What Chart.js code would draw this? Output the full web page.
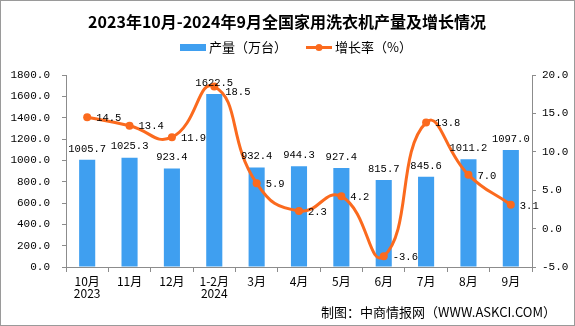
<!DOCTYPE html>
<html>
<head>
<meta charset="utf-8">
<script src="https://cdn.jsdelivr.net/npm/chart.js@4.4.1/dist/chart.umd.min.js"></script>
<style>
  html, body { margin: 0; padding: 0; background: #fff; }
  #wrap { width: 575px; height: 326px; position: relative; }
</style>
</head>
<body>
<div id="wrap"><canvas id="chart"></canvas></div>
<script>
// 数据
const months = [['10月', '2023'], '11月', '12月', ['1-2月', '2024'], '3月', '4月', '5月', '6月', '7月', '8月', '9月'];
const output = [1005.7, 1025.3, 923.4, 1622.5, 932.4, 944.3, 927.4, 815.7, 845.6, 1011.2, 1097.0];
const growth = [14.5, 13.4, 11.9, 18.5, 5.9, 2.3, 4.2, -3.6, 13.8, 7.0, 3.1];

const titleText = '2023年10月-2024年9月全国家用洗衣机产量及增长情况';
const sourceText = '制图：中商情报网（WWW.ASKCI.COM）';

const BAR_COLOR = '#3f9ff0';
const LINE_COLOR = '#fb6a1e';
const AXIS_COLOR = '#8c8c8c';
const CJK = '"Noto Sans CJK SC", sans-serif';
const MONO = '"Liberation Mono", "DejaVu Sans Mono", monospace';

// 标题、图例、数据标签、来源
const decorPlugin = {
  id: 'decor',
  afterDatasetsDraw(chart) {
    const ctx = chart.ctx;
    ctx.save();
    ctx.fillStyle = '#000';
    ctx.font = '10.5px ' + MONO;
    ctx.textBaseline = 'middle';

    // 柱子数值
    ctx.textAlign = 'center';
    chart.getDatasetMeta(1).data.forEach((bar, i) => {
      ctx.fillText(output[i].toFixed(1), bar.x, bar.y - 11);
    });

    // 折线数值
    ctx.textAlign = 'left';
    chart.getDatasetMeta(0).data.forEach((pt, i) => {
      let dy = 1;
      let dx = 9;
      if (i === 3) { dy = 6; dx = 11; }
      ctx.fillText(growth[i].toFixed(1), pt.x + dx, pt.y + dy);
    });
    ctx.restore();
  },
  afterDraw(chart) {
    const ctx = chart.ctx;
    ctx.save();
    // 标题
    ctx.fillStyle = '#000';
    ctx.font = 'bold 16px ' + CJK;
    ctx.textAlign = 'center';
    ctx.textBaseline = 'middle';
    ctx.fillText(titleText, 287, 22);

    // 图例
    ctx.font = '13px ' + CJK;
    ctx.textAlign = 'left';
    ctx.fillStyle = BAR_COLOR;
    ctx.fillRect(180, 44, 26, 7);
    ctx.fillStyle = '#000';
    ctx.fillText('产量（万台）', 209, 47.5);

    ctx.strokeStyle = LINE_COLOR;
    ctx.lineWidth = 3;
    ctx.beginPath();
    ctx.moveTo(306, 47.5);
    ctx.lineTo(332, 47.5);
    ctx.stroke();
    ctx.fillStyle = LINE_COLOR;
    ctx.beginPath();
    ctx.arc(319, 47.5, 3.5, 0, Math.PI * 2);
    ctx.fill();
    ctx.fillStyle = '#000';
    ctx.fillText('增长率（%）', 335, 47.5);

    // 来源
    ctx.font = '13px ' + CJK;
    ctx.textAlign = 'right';
    ctx.fillText(sourceText, 556, 312);

    // 外框
    ctx.strokeStyle = '#9a9a9a';
    ctx.lineWidth = 1;
    ctx.strokeRect(0.5, 0.5, 574, 325);
    ctx.restore();
  }
};

new Chart(document.getElementById('chart'), {
  data: {
    labels: months,
    datasets: [
      {
        type: 'line',
        label: '增长率（%）',
        data: growth,
        yAxisID: 'y1',
        borderColor: LINE_COLOR,
        backgroundColor: LINE_COLOR,
        borderWidth: 3,
        pointRadius: 4,
        pointBackgroundColor: LINE_COLOR,
        pointBorderWidth: 0,
        tension: 0.5,
        order: 0
      },
      {
        type: 'bar',
        label: '产量（万台）',
        data: output,
        yAxisID: 'y',
        backgroundColor: BAR_COLOR,
        barPercentage: 0.38,
        categoryPercentage: 1,
        order: 1
      }
    ]
  },
  options: {
    responsive: true,
    maintainAspectRatio: false,
    animation: false,
    layout: { padding: { top: 75, left: 0, right: 0, bottom: 0 } },
    elements: { line: { capBezierPoints: false } },
    plugins: {
      legend: { display: false },
      title: { display: false },
      tooltip: { enabled: false }
    },
    scales: {
      x: {
        offset: true,
        grid: { display: true, offset: true, drawOnChartArea: false, tickLength: 5, color: AXIS_COLOR },
        border: { display: true, color: AXIS_COLOR },
        ticks: { color: '#000', font: { family: CJK, size: 12, lineHeight: 1.0 }, padding: 3, maxRotation: 0, autoSkip: false },
        afterFit(scale) { scale.height = 59; }
      },
      y: {
        position: 'left',
        min: 0,
        max: 1800,
        ticks: { stepSize: 200, color: '#000', padding: 12, font: { family: MONO, size: 11 },
          callback: v => v.toFixed(1) },
        grid: { display: true, drawOnChartArea: false, tickLength: 4, color: AXIS_COLOR },
        border: { display: true, color: AXIS_COLOR },
        afterFit(scale) { scale.width = 66; }
      },
      y1: {
        position: 'right',
        min: -5,
        max: 20,
        ticks: { stepSize: 5, color: '#000', padding: 6, font: { family: MONO, size: 11 },
          callback: v => v.toFixed(1) },
        grid: { display: true, drawOnChartArea: false, tickLength: 4, color: AXIS_COLOR },
        border: { display: true, color: AXIS_COLOR },
        afterFit(scale) { scale.width = 43; }
      }
    }
  },
  plugins: [decorPlugin]
});
</script>
</body>
</html>
